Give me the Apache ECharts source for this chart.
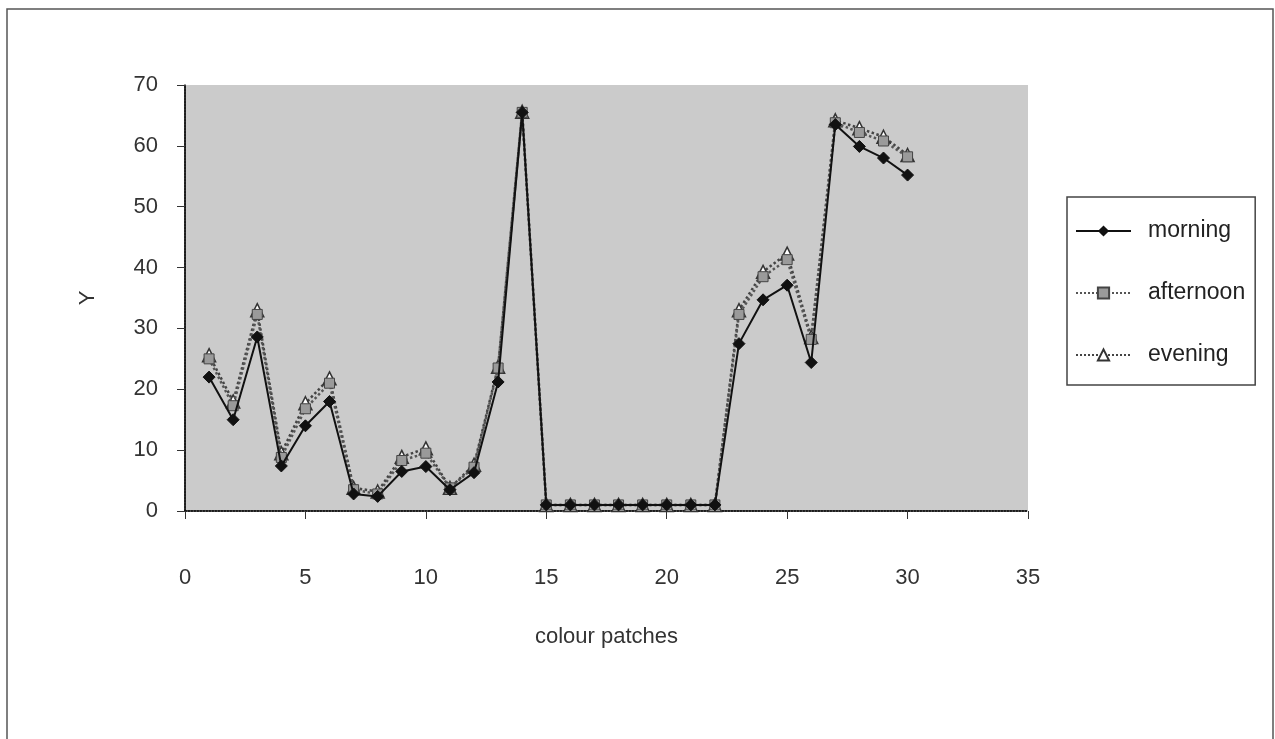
<!DOCTYPE html>
<html>
<head>
<meta charset="utf-8">
<script src="https://cdn.jsdelivr.net/npm/echarts@6/dist/echarts.min.js"></script>
<style>
  html, body { margin: 0; padding: 0; background: #fff; }
  #chart { width: 1275px; height: 739px; }
</style>
</head>
<body>
<div id="chart"></div>
<script>
// colour patch numbers 1..30
const patches = [1, 2, 3, 4, 5, 6, 7, 8, 9, 10, 11, 12, 13, 14, 15, 16, 17, 18, 19, 20, 21, 22, 23, 24, 25, 26, 27, 28, 29, 30];
const morning = [22, 15, 28.6, 7.4, 14, 18, 2.8, 2.4, 6.5, 7.3, 3.5, 6.3, 21.2, 65.5, 1, 1, 1, 1, 1, 1, 1, 1, 27.5, 34.7, 37.1, 24.4, 63.5, 59.9, 58, 55.2];
const afternoon = [25, 17.3, 32.3, 8.8, 16.8, 21, 3.5, 2.8, 8.3, 9.5, 3.8, 7.2, 23.5, 65.5, 1, 1, 1, 1, 1, 1, 1, 1, 32.3, 38.5, 41.3, 28.2, 63.8, 62.2, 60.8, 58.2];
const evening = [25.6, 18, 33, 9.5, 17.7, 21.8, 3.8, 3.2, 8.9, 10.3, 3.8, 7.6, 23.7, 65.6, 1, 1, 1, 1, 1, 1, 1, 1, 33, 39.3, 42.3, 28.6, 64.2, 62.9, 61.5, 58.5];

function pairs(ys) {
  return patches.map((x, i) => [x, ys[i]]);
}

const font = 'Liberation Sans, Arial, sans-serif';
let myecharts = echarts.init(document.getElementById('chart'));
myecharts.setOption({
  animation: false,
  backgroundColor: '#fff',
  graphic: [
    {
      type: 'rect',
      shape: { x: 7, y: 9, width: 1266, height: 760 },
      style: { fill: 'none', stroke: '#555', lineWidth: 1.5 },
      z: -1,
    },
  ],
  grid: {
    left: 185,
    right: 247,
    top: 85,
    bottom: 228,
    show: true,
    backgroundColor: '#cbcbcb',
    borderWidth: 0,
  },
  xAxis: [
    {
      type: 'value',
      min: 0,
      max: 35,
      interval: 5,
      name: 'colour patches',
      nameLocation: 'middle',
      nameGap: 115,
      nameTextStyle: { color: '#333', fontSize: 22, fontFamily: font },
      axisLine: { onZero: false, lineStyle: { color: '#111', width: 1.5, type: 'dotted' } },
      axisTick: { show: true, length: 8, lineStyle: { color: '#333' } },
      axisLabel: { margin: 56, color: '#333', fontSize: 22, fontFamily: font },
      splitLine: { show: false },
    },
    {
      type: 'value',
      position: 'top',
      min: 0,
      max: 35,
      axisLine: { show: true, lineStyle: { color: '#111', width: 1.5, type: 'dotted' } },
      axisTick: { show: false },
      axisLabel: { show: false },
      splitLine: { show: false },
    },
  ],
  yAxis: [
    {
      type: 'value',
      min: 0,
      max: 70,
      interval: 10,
      name: 'Y',
      nameLocation: 'middle',
      nameRotate: 90,
      nameGap: 86,
      nameTextStyle: { color: '#333', fontSize: 22, fontFamily: font },
      axisLine: { show: true, lineStyle: { color: '#111', width: 1.5 } },
      axisTick: { show: true, length: 8, lineStyle: { color: '#333' } },
      axisLabel: { margin: 27, color: '#333', fontSize: 22, fontFamily: font },
      splitLine: { show: false },
    },
    {
      type: 'value',
      position: 'right',
      min: 0,
      max: 70,
      axisLine: { show: true, lineStyle: { color: '#111', width: 1.5, type: 'dotted' } },
      axisTick: { show: false },
      axisLabel: { show: false },
      splitLine: { show: false },
    },
  ],
  legend: {
    orient: 'vertical',
    left: 1067,
    top: 197,
    padding: [22, 10, 18, 8],
    itemGap: 38,
    itemWidth: 55,
    itemHeight: 14,
    borderColor: '#444',
    borderWidth: 1.5,
    backgroundColor: '#fff',
    textStyle: { color: '#222', fontSize: 23, lineHeight: 24, fontFamily: font, padding: [0, 0, 0, 12] },
    data: ['morning', 'afternoon', 'evening'],
  },
  series: [
    {
      name: 'evening',
      type: 'line',
      data: pairs(evening),
      symbol: 'triangle',
      symbolSize: 13,
      itemStyle: { color: '#fff', borderColor: '#333', borderWidth: 1.5 },
      lineStyle: { color: '#444', width: 2.5, type: 'dotted' },
      z: 2,
    },
    {
      name: 'afternoon',
      type: 'line',
      data: pairs(afternoon),
      symbol: 'rect',
      symbolSize: 10,
      itemStyle: { color: '#9a9a9a', borderColor: '#444', borderWidth: 1 },
      lineStyle: { color: '#555', width: 2.5, type: 'dotted' },
      z: 3,
    },
    {
      name: 'morning',
      type: 'line',
      data: pairs(morning),
      symbol: 'diamond',
      symbolSize: 12,
      itemStyle: { color: '#111', borderColor: '#111' },
      lineStyle: { color: '#111', width: 2 },
      z: 4,
    },
  ],
});
</script>
</body>
</html>
